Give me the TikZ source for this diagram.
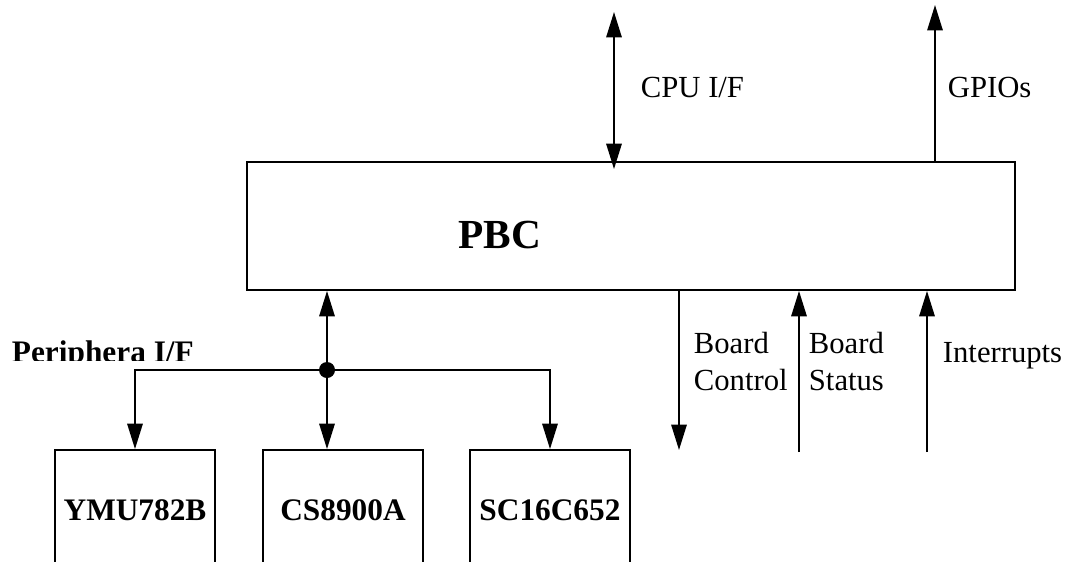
\documentclass[tikz,border=0pt]{standalone}
\usepackage{fontspec}
\setmainfont{Liberation Serif}
\usetikzlibrary{arrows.meta}
\begin{document}
\begin{tikzpicture}[x=0.75pt,y=-0.75pt,
  line width=1.4pt,
  arr/.style={-{Triangle[length=19pt,width=11.5pt]}},
  dblarr/.style={{Triangle[length=19pt,width=11.5pt]}-{Triangle[length=19pt,width=11.5pt]}},
  box/.style={draw,rectangle,inner sep=0pt,line width=1.4pt},
  chip/.style={box,minimum width=120pt,minimum height=90pt,font=\fontsize{23.5}{28}\selectfont\bfseries},
  lbl/.style={inner sep=0pt,font=\fontsize{23}{27.75}\selectfont},
  blbl/.style={inner sep=0pt,font=\fontsize{23.5}{28}\selectfont\bfseries}]
\useasboundingbox (0,0) rectangle (1067,561);
\clip (0,0) rectangle (1067,561);
% main block
\node[box,minimum width=576pt,minimum height=96pt] (pbc) at (631,226) {};
\node[inner sep=0pt,font=\fontsize{31}{36}\selectfont\bfseries] (pbcl) at (500,235) {PBC};
% peripheral chips
\node[chip] (ymu) at (135,510) {YMU782B};
\node[chip] (cs) at (343,510) {CS8900A};
\node[chip] (sc) at (550,510) {SC16C652};
% junction
\node[circle,fill,inner sep=0pt,minimum size=12pt] (dot) at (327,370) {};
\draw[arr] (dot.center) -- (dot |- pbc.south);
\draw[arr] (dot.center) -| (ymu.north);
\draw[arr] (dot.center) -| (sc.north);
\draw[arr] (dot.center) -- (dot |- cs.north);
\begin{scope}
\clip (0,0) rectangle (300,360);
\node[blbl,anchor=base west] (perl) at (11,362) {Periphera I/F};
\end{scope}
% top connectors
\coordinate (cpu) at (614,12);
\draw[dblarr] (cpu) -- ([yshift=-6pt]cpu |- pbc.north);
\node[lbl,anchor=base west] (cpul) at (640,97) {CPU I/F};
\coordinate (gpio) at (935,5);
\draw[arr] (gpio |- pbc.north) -- (gpio);
\node[lbl,anchor=base west] (gpiol) at (947,97) {GPIOs};
% bottom right connectors
\coordinate (bcend) at (679,450);
\draw[arr] (bcend |- pbc.south) -- (bcend);
\node[lbl,align=left,anchor=base west] (bcl) at (693,390) {Board\\Control};
\coordinate (bsstart) at (799,452);
\draw[arr] (bsstart) -- (bsstart |- pbc.south);
\node[lbl,align=left,anchor=base west] (bsl) at (808,390) {Board\\Status};
\coordinate (intstart) at (927,452);
\draw[arr] (intstart) -- (intstart |- pbc.south);
\node[lbl,anchor=base west] (intl) at (942,362) {Interrupts};
\end{tikzpicture}
\end{document}
